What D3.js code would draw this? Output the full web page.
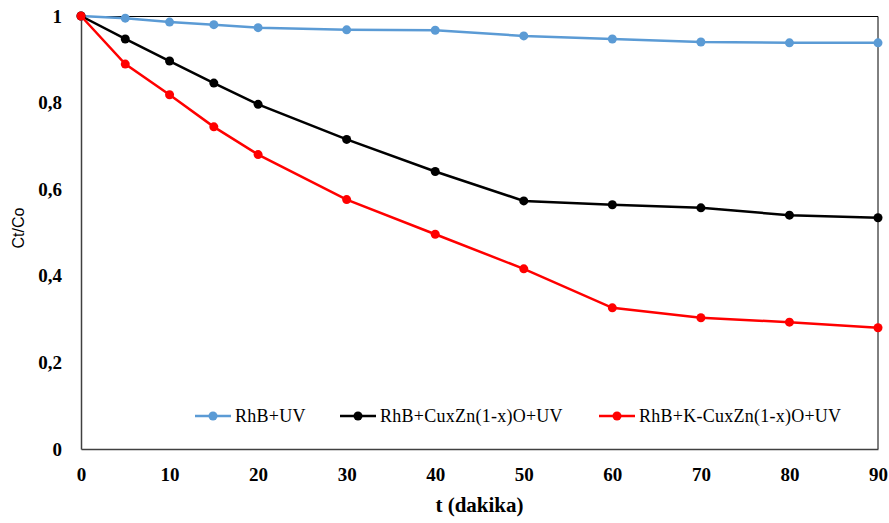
<!DOCTYPE html>
<html>
<head>
<meta charset="utf-8">
<script src="https://cdn.jsdelivr.net/npm/d3@7"></script>
<style>
    body { margin: 0; background: #fff; }
    svg { display: block; }
</style>
</head>
<body>
<div id="chart"></div>
<script>
// zaman (dakika)
var times = [0, 5, 10, 15, 20, 30, 40, 50, 60, 70, 80, 90];
var rhbUV = [1, 0.995, 0.986, 0.980, 0.973, 0.968, 0.967, 0.954, 0.947, 0.940, 0.938, 0.938];
var rhbCuZnUV = [1, 0.947, 0.896, 0.845, 0.796, 0.715, 0.641, 0.573, 0.564, 0.557, 0.540, 0.534];
var rhbKCuZnUV = [1, 0.889, 0.818, 0.744, 0.680, 0.576, 0.496, 0.416, 0.326, 0.303, 0.293, 0.280];
var seriesNames = ["RhB+UV", "RhB+CuxZn(1-x)O+UV", "RhB+K-CuxZn(1-x)O+UV"];
var xTicks = [0, 10, 20, 30, 40, 50, 60, 70, 80, 90];
var yTicks = [0, 0.2, 0.4, 0.6, 0.8, 1];

var w = 889, h = 523;
var margin = { top: 16, right: 11, bottom: 74, left: 81 };
var width = w - margin.left - margin.right;
var height = h - margin.top - margin.bottom;
var colors = ["#5B9BD5", "#000000", "#FF0000"];
var SERIF = "'Liberation Serif', 'Times New Roman', serif";
var SANS = "'Liberation Sans', Arial, sans-serif";

var svg = d3.select("#chart").append("svg").attr("width", w).attr("height", h);
var g = svg.append("g").attr("transform", "translate(" + margin.left + "," + margin.top + ")");

var scale_x = d3.scaleLinear().domain([0, 90]).range([0, width]);
var scale_y = d3.scaleLinear().domain([0, 1]).range([height, 0]);

// plot frame (top + right)
g.append("path")
    .attr("d", "M0,0.5H" + width + "V" + height)
    .attr("fill", "none").attr("stroke", "#000").attr("stroke-width", 1);

var xAxis = d3.axisBottom(scale_x).tickValues(xTicks).tickSize(0).tickPadding(19);
var xBar = g.append("g").attr("transform", "translate(0," + height + ")").call(xAxis);
xBar.select(".domain").attr("stroke", "#404040").attr("stroke-width", 1.5);

var yAxis = d3.axisLeft(scale_y).tickValues(yTicks).tickSize(0).tickPadding(19)
    .tickFormat(function (d) { return d3.format("~g")(d).replace(".", ","); });
var yBar = g.append("g").call(yAxis);
yBar.select(".domain").attr("stroke", "#404040").attr("stroke-width", 1.5);

g.selectAll(".tick text")
    .style("font-family", SERIF).style("font-weight", "bold").style("font-size", "19px")
    .attr("fill", "#000");

var allSeries = [rhbUV, rhbCuZnUV, rhbKCuZnUV];

var line = d3.line()
    .x(function (d, i) { return scale_x(times[i]); })
    .y(function (d) { return scale_y(d); });

allSeries.forEach(function (vals, k) {
    var grp = g.append("g").attr("class", "line");
    grp.append("path")
        .attr("d", line(vals))
        .attr("fill", "none")
        .attr("stroke", colors[k])
        .attr("stroke-width", 2.5);
    grp.selectAll("circle")
        .data(vals).enter().append("circle")
        .attr("cx", function (d, i) { return scale_x(times[i]); })
        .attr("cy", function (d) { return scale_y(d); })
        .attr("r", 4.5)
        .attr("fill", colors[k]);
});

// axis titles
svg.append("text")
    .attr("x", margin.left + width / 2).attr("y", 512)
    .attr("text-anchor", "middle")
    .style("font-family", SERIF).style("font-weight", "bold").style("font-size", "21px")
    .text("t (dakika)");

svg.append("text")
    .attr("transform", "translate(24,228) rotate(-90)")
    .attr("text-anchor", "middle")
    .style("font-family", SANS).style("font-size", "16px")
    .text("Ct/Co");

// legend
var legendX = [195, 340, 599];
var legendY = 416;
seriesNames.forEach(function (name, k) {
    var lg = svg.append("g").attr("transform", "translate(" + legendX[k] + "," + legendY + ")");
    lg.append("line").attr("x1", 0).attr("x2", 36).attr("y1", 0).attr("y2", 0)
        .attr("stroke", colors[k]).attr("stroke-width", 2.5);
    lg.append("circle").attr("cx", 18).attr("cy", 0).attr("r", 4.5).attr("fill", colors[k]);
    lg.append("text").attr("x", 40).attr("y", 6)
        .style("font-family", SERIF).style("font-size", "18px").style("letter-spacing", "0.25px")
        .text(name);
});
</script>
</body>
</html>
